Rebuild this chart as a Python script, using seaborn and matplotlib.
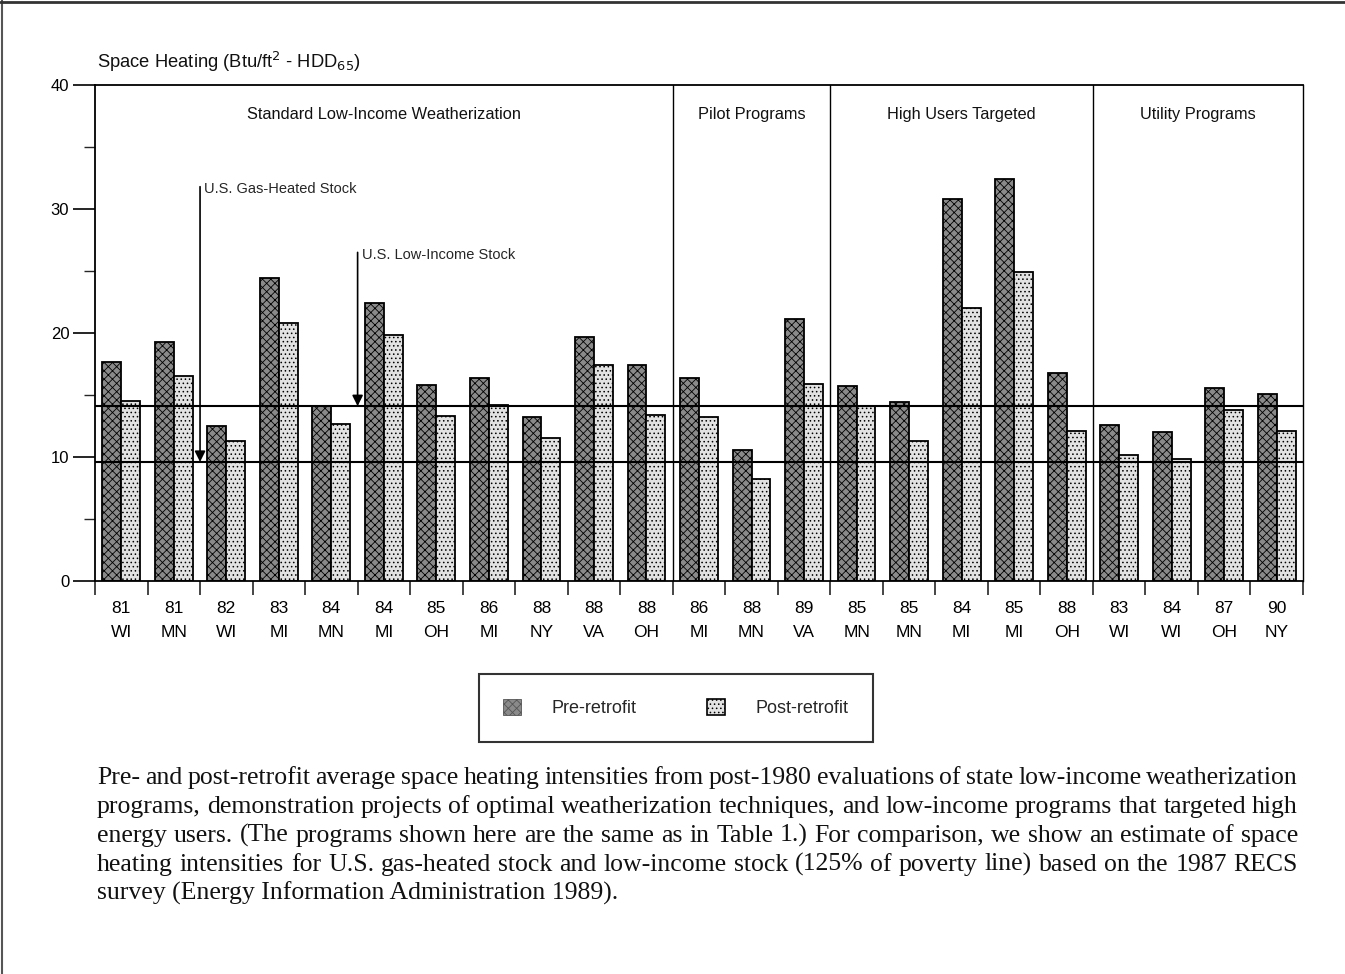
import numpy as np
import pandas as pd
import matplotlib
matplotlib.use('Agg')
import matplotlib.pyplot as plt
import seaborn as sns
from matplotlib.patches import Patch
from matplotlib.lines import Line2D
from matplotlib.ticker import FixedLocator

# ---------------- data ----------------
years = ['81', '81', '82', '83', '84', '84', '85', '86', '88', '88', '88',
         '86', '88', '89',
         '85', '85', '84', '85', '88',
         '83', '84', '87', '90']
states = ['WI', 'MN', 'WI', 'MI', 'MN', 'MI', 'OH', 'MI', 'NY', 'VA', 'OH',
          'MI', 'MN', 'VA',
          'MN', 'MN', 'MI', 'MI', 'OH',
          'WI', 'WI', 'OH', 'NY']
pre_retrofit = [17.7, 19.3, 12.5, 24.4, 14.1, 22.4, 15.8, 16.4, 13.2, 19.7, 17.4,
                16.4, 10.6, 21.1,
                15.7, 14.4, 30.8, 32.4, 16.8,
                12.6, 12.0, 15.6, 15.1]
post_retrofit = [14.5, 16.5, 11.3, 20.8, 12.7, 19.8, 13.3, 14.2, 11.5, 17.4, 13.4,
                 13.2, 8.2, 15.9,
                 14.1, 11.3, 22.0, 24.9, 12.1,
                 10.2, 9.8, 13.8, 12.1]
series = ['Pre-retrofit', 'Post-retrofit']
group_names = ['Standard Low-Income Weatherization', 'Pilot Programs',
               'High Users Targeted', 'Utility Programs']
group_sizes = [11, 3, 5, 4]
gas_heated_stock = 9.6
low_income_stock = 14.1
y_ticks = [0, 10, 20, 30, 40]

caption_lines = [
    "Pre- and post-retrofit average space heating intensities from post-1980 evaluations of state low-income weatherization",
    "programs, demonstration projects of optimal weatherization techniques, and low-income programs that targeted high",
    "energy users. (The programs shown here are the same as in Table 1.) For comparison, we show an estimate of space",
    "heating intensities for U.S. gas-heated stock and low-income stock (125% of poverty line) based on the 1987 RECS",
    "survey (Energy Information Administration 1989).",
]

# ---------------- styling ----------------
sns.set_theme(style='white')
plt.rcParams['font.family'] = ['Liberation Sans', 'DejaVu Sans']
plt.rcParams['hatch.linewidth'] = 0.6
PRE_COLOR = '#8a8a8a'
POST_COLOR = '#e2e2e2'
PRE_HATCH = 'xxxx'
POST_HATCH = '....'

W, H = 1345, 974
fig = plt.figure(figsize=(W / 100, H / 100), dpi=100)
fig.patch.set_facecolor('white')
ax = fig.add_axes([95 / W, 1 - 581 / H, (1303 - 95) / W, (581 - 85) / H])

n = len(years)
df = pd.DataFrame({
    'prog': list(range(n)) * 2,
    'value': pre_retrofit + post_retrofit,
    'period': [series[0]] * n + [series[1]] * n,
})

sns.barplot(data=df, x='prog', y='value', hue='period', hue_order=series,
            palette=[PRE_COLOR, POST_COLOR], saturation=1, width=0.72, gap=0,
            edgecolor='black', linewidth=1.3, legend=False, ax=ax, zorder=2)

for cont, hatch in zip(ax.containers, [PRE_HATCH, POST_HATCH]):
    for bar in cont:
        bar.set_hatch(hatch)

ax.set_xlim(-0.5, n - 0.5)
ax.set_ylim(0, 40)
ax.set_xlabel('')
ax.set_ylabel('')

# reference lines
ax.axhline(low_income_stock, color='black', lw=1.5, zorder=4)
ax.axhline(gas_heated_stock, color='black', lw=1.5, zorder=4)

# group separators and labels
start = 0
for name, size in zip(group_names, group_sizes):
    end = start + size
    if end < n:
        ax.axvline(end - 0.5, color='black', lw=1.0, zorder=3)
    ax.text((start + end - 1) / 2, 37.6, name, ha='center', va='center',
            fontsize=11.8, color='#111111')
    start = end

# arrows
ax.annotate('', xy=(1.5, gas_heated_stock), xytext=(1.5, 31.8),
            arrowprops=dict(arrowstyle='-|>', color='black', lw=1.2,
                            mutation_scale=16, shrinkA=0, shrinkB=0), zorder=5)
ax.text(1.58, 31.6, 'U.S. Gas-Heated Stock', fontsize=10.5, va='center', ha='left')
ax.annotate('', xy=(4.5, low_income_stock), xytext=(4.5, 26.5),
            arrowprops=dict(arrowstyle='-|>', color='black', lw=1.2,
                            mutation_scale=16, shrinkA=0, shrinkB=0), zorder=5)
ax.text(4.58, 26.3, 'U.S. Low-Income Stock', fontsize=10.5, va='center', ha='left')

# spines
for s in ['left', 'right', 'top', 'bottom']:
    ax.spines[s].set_visible(True)
    ax.spines[s].set_color('black')
    ax.spines[s].set_linewidth(1.3)
ax.spines['right'].set_linewidth(1.0)

# y ticks
ax.set_yticks(y_ticks)
ax.set_yticklabels([str(v) for v in y_ticks])
ax.yaxis.set_minor_locator(FixedLocator([5, 15, 25, 35]))
ax.tick_params(axis='y', which='major', direction='out', length=16, width=1.2,
               labelsize=12, pad=2.5, left=True, colors='black')
ax.tick_params(axis='y', which='minor', direction='out', length=8, width=1.0, left=True)

# x ticks: labels at category centers, tick marks at boundaries
ax.set_xticks(range(n))
ax.set_xticklabels([f'{y}\n{s}' for y, s in zip(years, states)], linespacing=1.72)
ax.xaxis.set_minor_locator(FixedLocator([i - 0.5 for i in range(n + 1)]))
ax.tick_params(axis='x', which='major', length=0, labelsize=12.5, pad=14.5, bottom=True,
               colors='black')
ax.tick_params(axis='x', which='minor', direction='out', length=10, width=1.2, bottom=True)
ax.grid(False)

# y-axis title at top
fig.text(97 / W, 1 - 62 / H, r'Space Heating (Btu/ft$^{2}$ - HDD$_{65}$)',
         fontsize=13.2, ha='left', va='center', color='#111111')

# legend
handles = [Patch(facecolor=PRE_COLOR, edgecolor='#555555', hatch=PRE_HATCH, lw=0.6),
           Patch(facecolor=POST_COLOR, edgecolor='black', hatch=POST_HATCH, lw=1.2)]
leg = fig.legend(handles, series, loc='center', bbox_to_anchor=(676 / W, 1 - 708 / H),
                 ncol=2, frameon=True, fancybox=False, fontsize=13,
                 handlelength=1.0, handleheight=1.0, handletextpad=1.7,
                 columnspacing=3.9, borderpad=1.35, borderaxespad=0)
leg.get_frame().set_edgecolor('black')
leg.get_frame().set_linewidth(1.5)

# justified caption
CAP_FS = 18.5
cap_family = ['Liberation Serif', 'DejaVu Serif']
x_left, x_right = 97, 1298
line_base = [784, 813, 842, 871, 900]
renderer = fig.canvas.get_renderer()
for i, (line, yy) in enumerate(zip(caption_lines, line_base)):
    if i == len(caption_lines) - 1:
        fig.text(x_left / W, 1 - yy / H, line, fontsize=CAP_FS, family=cap_family,
                 ha='left', va='baseline', color='#111111')
        continue
    words = line.split(' ')
    texts = [fig.text(0, 1 - yy / H, w, fontsize=CAP_FS, family=cap_family,
                      ha='left', va='baseline', color='#111111') for w in words]
    widths = [t.get_window_extent(renderer).width for t in texts]
    gap = max((x_right - x_left - sum(widths)) / (len(words) - 1), 2.0)
    xx = x_left
    for t, wd in zip(texts, widths):
        t.set_x(xx / W)
        xx += wd + gap

# page border lines (scan frame)
fig.add_artist(Line2D([2 / W, 2 / W], [0, 1], color='#555555', lw=1.5))
fig.add_artist(Line2D([0, 1], [1 - 2 / H, 1 - 2 / H], color='#333333', lw=2))

fig.savefig('out.png', dpi=100, facecolor='white')
